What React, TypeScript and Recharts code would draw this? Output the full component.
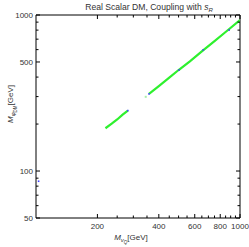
import React from "react";
import { ScatterChart, Scatter, XAxis, YAxis } from "recharts";

const xTicks = [200, 250, 300, 350, 400, 450, 500, 550, 600, 650, 700, 750, 800, 850, 900, 950, 1000];
const xLabels = [200, 400, 600, 800, 1000];
const yTicks = [50, 60, 70, 80, 90, 100, 200, 300, 400, 500, 600, 700, 800, 900, 1000];
const yLabels = [50, 100, 500, 1000];

const lowerBand = [
  { x: 219, y: 188 },
  { x: 235, y: 201 },
  { x: 250, y: 214 },
  { x: 265, y: 229 },
  { x: 282, y: 244 },
];
const upperBand = [
  { x: 358, y: 312 },
  { x: 400, y: 350 },
  { x: 450, y: 397 },
  { x: 500, y: 444 },
  { x: 568, y: 505 },
  { x: 650, y: 585 },
  { x: 750, y: 680 },
  { x: 850, y: 778 },
  { x: 1000, y: 929 },
];
const blueDots = [
  { x: 282, y: 244 },
  { x: 358, y: 312 },
  { x: 502, y: 444 },
  { x: 660, y: 597 },
  { x: 885, y: 801 },
  { x: 103, y: 86 },
];
const paleDots = [{ x: 345, y: 299 }];

const FONT = "'Liberation Sans', Arial, sans-serif";
const TXT = "#333";

const BottomTick = (p: any) => {
  const { x, y, payload } = p;
  const major = xLabels.includes(payload.value);
  return (
    <g>
      <line x1={x} x2={x} y1={y} y2={y - (major ? 4 : 2.5)} stroke="#000" strokeWidth={1} />
      {major && (
        <text x={x} y={y + 10.5} textAnchor="middle" fontSize={8} fontFamily={FONT} fill={TXT}>
          {payload.value}
        </text>
      )}
    </g>
  );
};
const TopTick = (p: any) => {
  const { x, y, payload } = p;
  const major = xLabels.includes(payload.value);
  return <line x1={x} x2={x} y1={y} y2={y + (major ? 4 : 2.5)} stroke="#000" strokeWidth={1} />;
};
const LeftTick = (p: any) => {
  const { x, y, payload } = p;
  const major = yLabels.includes(payload.value);
  return (
    <g>
      <line x1={x} x2={x + (major ? 4 : 2.5)} y1={y} y2={y} stroke="#000" strokeWidth={1} />
      {major && (
        <text x={x - 3} y={y + 3} textAnchor="end" fontSize={8} fontFamily={FONT} fill={TXT}>
          {payload.value}
        </text>
      )}
    </g>
  );
};
const RightTick = (p: any) => {
  const { x, y, payload } = p;
  const major = yLabels.includes(payload.value);
  return <line x1={x} x2={x - (major ? 4 : 2.5)} y1={y} y2={y} stroke="#000" strokeWidth={1} />;
};

const NoShape = () => <g />;
const BlueDot = (p: any) => <rect x={p.cx - 0.8} y={p.cy - 0.8} width={1.6} height={1.6} fill="#4040ff" />;
const PaleDot = (p: any) => <rect x={p.cx - 1} y={p.cy - 1} width={2} height={2} fill="#a8f0a8" />;

export default function App() {
  return (
    <div style={{ position: "absolute", left: 0, top: 0, width: 249, height: 247, background: "#fff" }}>
      <ScatterChart width={249} height={247} margin={{ top: 14, right: 8, bottom: 0, left: 6 }}>
        <XAxis
          xAxisId="b"
          type="number"
          dataKey="x"
          scale="log"
          domain={[100, 1000]}
          allowDataOverflow
          ticks={xTicks}
          interval={0}
          height={29}
          tickSize={0}
          tickMargin={0}
          tickLine={false}
          axisLine={{ stroke: "#000" }}
          tick={<BottomTick />}
        />
        <XAxis
          xAxisId="t"
          orientation="top"
          type="number"
          dataKey="x"
          scale="log"
          domain={[100, 1000]}
          allowDataOverflow
          ticks={xTicks}
          interval={0}
          height={1}
          tickSize={0}
          tickMargin={0}
          tickLine={false}
          axisLine={{ stroke: "#000" }}
          tick={<TopTick />}
        />
        <YAxis
          yAxisId="l"
          type="number"
          dataKey="y"
          scale="log"
          domain={[50, 1000]}
          allowDataOverflow
          ticks={yTicks}
          interval={0}
          width={30}
          tickSize={0}
          tickMargin={0}
          tickLine={false}
          axisLine={{ stroke: "#000" }}
          tick={<LeftTick />}
        />
        <YAxis
          yAxisId="r"
          orientation="right"
          type="number"
          dataKey="y"
          scale="log"
          domain={[50, 1000]}
          allowDataOverflow
          ticks={yTicks}
          interval={0}
          width={1}
          tickSize={0}
          tickMargin={0}
          tickLine={false}
          axisLine={{ stroke: "#000" }}
          tick={<RightTick />}
        />
        <Scatter
          xAxisId="b"
          yAxisId="l"
          data={lowerBand}
          line={{ stroke: "#2ef02e", strokeWidth: 2.2 }}
          lineType="joint"
          shape={<NoShape />}
          isAnimationActive={false}
        />
        <Scatter
          xAxisId="b"
          yAxisId="l"
          data={upperBand}
          line={{ stroke: "#2ef02e", strokeWidth: 2.2 }}
          lineType="joint"
          shape={<NoShape />}
          isAnimationActive={false}
        />
        <Scatter xAxisId="b" yAxisId="l" data={paleDots} shape={<PaleDot />} isAnimationActive={false} />
        <Scatter xAxisId="b" yAxisId="l" data={blueDots} shape={<BlueDot />} isAnimationActive={false} />
      </ScatterChart>
      <svg
        width={249}
        height={247}
        style={{ position: "absolute", left: 0, top: 0, pointerEvents: "none" }}
      >
        <text x={149} y={10} textAnchor="middle" fontSize={8.6} fontFamily={FONT} fill={TXT}>
          Real Scalar DM, Coupling with{" "}
          <tspan fontStyle="italic">s</tspan>
          <tspan fontStyle="italic" fontSize={6} dy={2}>R</tspan>
        </text>
        <text x={131} y={240} textAnchor="middle" fontSize={8} fontFamily={FONT} fill={TXT}>
          <tspan fontStyle="italic">M</tspan>
          <tspan fontStyle="italic" fontSize={6} dy={2}>v</tspan>
          <tspan fontStyle="italic" fontSize={4.5} dy={1.5}>Q</tspan>
          <tspan dy={-3.5}>[GeV]</tspan>
        </text>
        <text
          transform="translate(13,104) rotate(-90)"
          x={0}
          y={0}
          textAnchor="middle"
          fontSize={8}
          fontFamily={FONT}
          fill={TXT}
        >
          <tspan fontStyle="italic">M</tspan>
          <tspan fontStyle="italic" fontSize={6} dy={2}>φ</tspan>
          <tspan fontSize={4.5} dy={1.5}>DM</tspan>
          <tspan dy={-3.5}>[GeV]</tspan>
        </text>
      </svg>
    </div>
  );
}
